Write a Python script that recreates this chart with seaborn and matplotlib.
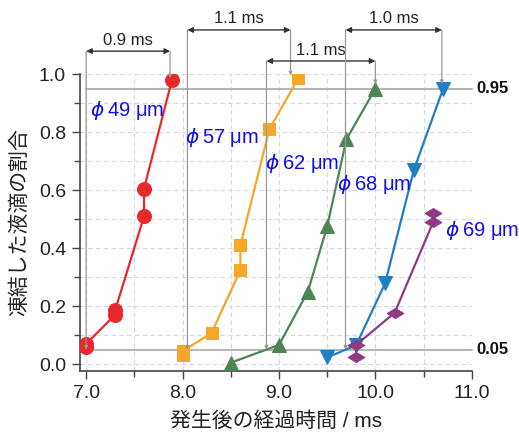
import matplotlib
matplotlib.use("Agg")
import matplotlib.pyplot as plt
import seaborn as sns
import numpy as np
import pandas as pd
from matplotlib.ticker import MultipleLocator

# ---- data ----
x49 = [7.0, 7.0, 7.3, 7.3, 7.6, 7.6, 7.89]
y49 = [0.060, 0.070, 0.170, 0.185, 0.51, 0.605, 0.98]
x57 = [8.0, 8.0, 8.3, 8.6, 8.6, 8.9, 9.2]
y57 = [0.030, 0.045, 0.107, 0.324, 0.41, 0.81, 0.985]
x62 = [8.5, 9.0, 9.3, 9.5, 9.7, 10.0]
y62 = [0.005, 0.066, 0.25, 0.475, 0.775, 0.95]
x68 = [9.5, 9.8, 10.1, 10.4, 10.7]
y68 = [0.023, 0.065, 0.278, 0.67, 0.947]
x69 = [9.8, 9.8, 10.2, 10.6, 10.6]
y69 = [0.024, 0.066, 0.177, 0.49, 0.52]

labels = ["$\\phi$\u200949 μm", "$\\phi$\u200957 μm", "$\\phi$\u200962 μm",
          "$\\phi$\u200968 μm", "$\\phi$\u200969 μm"]
label_pos = [(7.04, 0.875), (8.03, 0.78), (8.86, 0.69), (9.6, 0.62), (10.72, 0.46)]

# interval annotations: (x_start, x_end, y_level, text)
intervals = [(7.0, 7.87, 1.079, "0.9 ms"),
             (8.05, 9.12, 1.152, "1.1 ms"),
             (8.87, 10.0, 1.045, "1.1 ms"),
             (9.69, 10.69, 1.152, "1.0 ms")]
# vertical guide targets
vstart_targets = [0.05, 0.05, 0.05, 0.05]
vend_targets = [0.985, 0.995, 0.965, 0.965]

ref_levels = [0.95, 0.05]
ref_labels = ["0.95", "0.05"]

xlabel = "発生後の経過時間 / ms"
ylabel = "凍結した液滴の割合"

sns.set_theme(style="white")
plt.rcParams['font.family'] = ['Liberation Sans', 'Noto Sans CJK JP', 'DejaVu Sans']
plt.rcParams['mathtext.fontset'] = 'dejavusans'

fig = plt.figure(figsize=(5.19, 4.33), dpi=100)
ax = fig.add_axes([0.154, 0.143, 0.755, 0.686])

flat_diamond = [(-1, 0), (0, 0.6), (1, 0), (0, -0.6), (-1, 0)]

series = [
    (x49, y49, "#e8282b", "o", 10),
    (x57, y57, "#f6a628", "s", 8.5),
    (x62, y62, "#4f8455", "^", 9.5),
    (x68, y68, "#1f7fc2", "v", 9.5),
    (x69, y69, "#8e3a82", flat_diamond, 12),
]

# reference lines
for lv in ref_levels:
    ax.plot([7.0, 11.0], [lv, lv], color="#b4b4b4", lw=1.4, zorder=1, clip_on=False)
for lv, lb in zip(ref_levels, ref_labels):
    ax.text(11.05, lv, lb, fontsize=12, fontweight="bold", va="center", ha="left",
            color="#111111", transform=ax.transData, clip_on=False)

for xs, ys, c, m, ms in series:
    df = pd.DataFrame({"x": xs, "y": ys})
    sns.lineplot(data=df, x="x", y="y", sort=False, estimator=None, color=c,
                 marker=m, markersize=ms, markeredgecolor=c, lw=1.6, ax=ax, zorder=3)

for (lx, ly), t in zip(label_pos, labels):
    ax.text(lx, ly, t, color="#1010e6", fontsize=14.5, ha="left", va="center", zorder=4)

# interval arrows and guides
for (xa, xb, yl, t), ya, yb in zip(intervals, vstart_targets, vend_targets):
    ax.annotate("", xy=(xa, yl), xytext=(xb, yl),
                arrowprops=dict(arrowstyle="<|-|>", color="#333333", lw=1.0,
                                mutation_scale=8, shrinkA=0, shrinkB=0),
                annotation_clip=False)
    ax.text((xa + xb) / 2, yl + 0.012, t, ha="center", va="bottom", fontsize=12,
            color="#222222", clip_on=False)
    ax.annotate("", xy=(xa, ya), xytext=(xa, yl),
                arrowprops=dict(arrowstyle="-|>", color="#999999", lw=0.9,
                                mutation_scale=5, shrinkA=0, shrinkB=0),
                annotation_clip=False)
    ax.annotate("", xy=(xb, yb), xytext=(xb, yl),
                arrowprops=dict(arrowstyle="-|>", color="#999999", lw=0.9,
                                mutation_scale=5, shrinkA=0, shrinkB=0),
                annotation_clip=False)

ax.set_xlim(6.935, 11.0)
ax.set_ylim(-0.024, 1.0)
ax.xaxis.set_major_locator(MultipleLocator(1.0))
ax.xaxis.set_minor_locator(MultipleLocator(0.5))
ax.yaxis.set_major_locator(MultipleLocator(0.2))
ax.yaxis.set_minor_locator(MultipleLocator(0.1))
ax.set_xticks([7, 8, 9, 10, 11])
ax.set_xticklabels(["7.0", "8.0", "9.0", "10.0", "11.0"])
ax.set_yticks([0, 0.2, 0.4, 0.6, 0.8, 1.0])
ax.set_yticklabels(["0.0", "0.2", "0.4", "0.6", "0.8", "1.0"])

ax.grid(True, which="both", ls=(0, (4, 3)), color="#d6d6ea", lw=0.8)
ax.set_axisbelow(True)
for s in ["top", "right"]:
    ax.spines[s].set_visible(False)
for s in ["left", "bottom"]:
    ax.spines[s].set_color("#444444")
    ax.spines[s].set_linewidth(1.2)
ax.tick_params(which="major", direction="out", length=6, width=1, color="#444444",
               labelsize=14, labelcolor="#222222", bottom=True, left=True, pad=4)
ax.tick_params(which="minor", direction="out", length=4, width=1, color="#444444",
               bottom=True, left=True)

ax.set_xlabel(xlabel, fontsize=15, color="#222222", labelpad=7)
ax.set_ylabel(ylabel, fontsize=15, color="#222222", labelpad=7)

fig.savefig("out.png", dpi=100)
